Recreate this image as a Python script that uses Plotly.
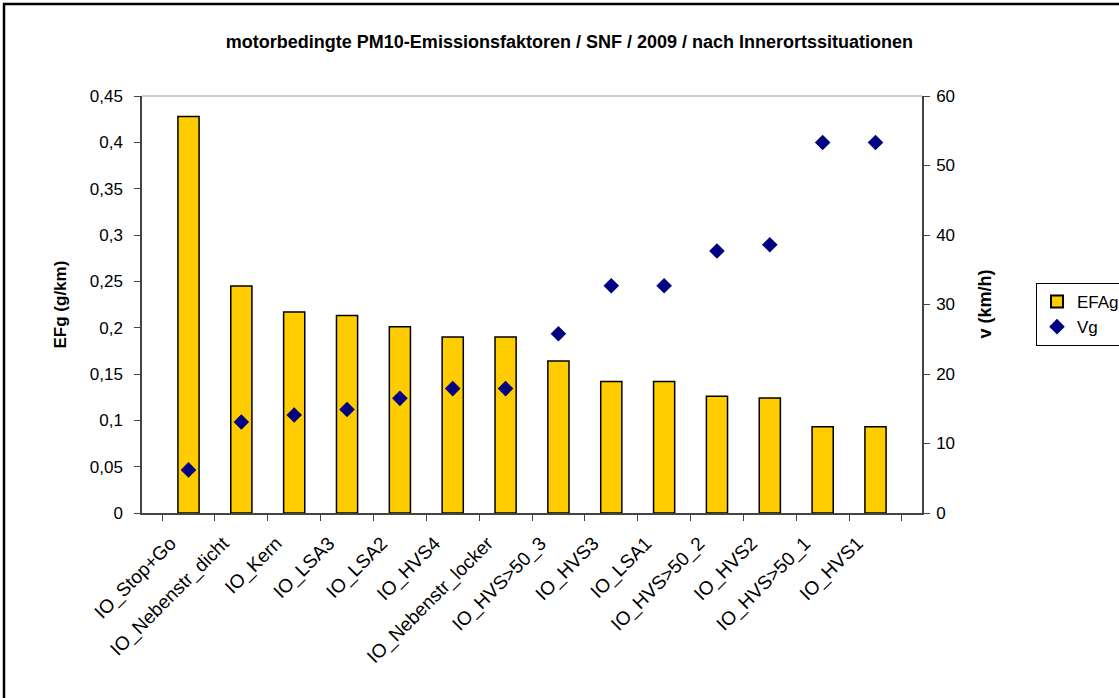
import plotly.graph_objects as go

# Innerorts traffic situations (SNF, 2009)
situations = [
    "IO_Stop+Go", "IO_Nebenstr_dicht", "IO_Kern", "IO_LSA3", "IO_LSA2",
    "IO_HVS4", "IO_Nebenstr_locker", "IO_HVS>50_3", "IO_HVS3", "IO_LSA1",
    "IO_HVS>50_2", "IO_HVS2", "IO_HVS>50_1", "IO_HVS1",
]
# engine PM10 emission factor (g/km)
efa_g = [0.428, 0.245, 0.217, 0.213, 0.201, 0.190, 0.190,
         0.164, 0.142, 0.142, 0.126, 0.124, 0.093, 0.093]
# mean speed (km/h)
v_g = [6.2, 13.1, 14.1, 14.9, 16.5, 17.9, 17.9,
       25.8, 32.7, 32.7, 37.7, 38.6, 53.3, 53.3]

FONT = "Liberation Sans, Arial, sans-serif"

fig = go.Figure()
fig.add_trace(go.Bar(
    x=situations, y=efa_g, name="EFAg",
    marker=dict(color="#FFCC00", line=dict(color="#000000", width=1.5)),
    yaxis="y",
))
fig.add_trace(go.Scatter(
    x=situations, y=v_g, name="Vg", mode="markers",
    marker=dict(symbol="diamond", size=12, color="#000080"),
    yaxis="y2",
))

axis_line = "#444444"
fig.update_layout(
    width=1119, height=698,
    margin=dict(l=142, r=197, t=96, b=185, autoexpand=False),
    paper_bgcolor="white", plot_bgcolor="white",
    separators=", ",
    font=dict(family=FONT, size=17, color="#000000"),
    bargap=0.6,
    showlegend=True,
    title=dict(
        text="<b>motorbedingte PM10-Emissionsfaktoren / SNF / 2009 / nach Innerortssituationen</b>",
        x=0.548, xref="paper", xanchor="center",
        y=1 - 42 / 698, yref="container", yanchor="middle",
        font=dict(family=FONT, size=18),
    ),
    xaxis=dict(
        type="category", showgrid=False, zeroline=False,
        showline=True, linecolor=axis_line, linewidth=1.5,
        ticks="outside", ticklen=6, tickcolor=axis_line, tickwidth=1.2,
        tickson="boundaries", tickangle=-45, automargin=False,
        ticklabelshift=-18, ticklabelstandoff=10,
        tickfont=dict(family=FONT, size=19),
    ),
    yaxis=dict(
        range=[0, 0.45], dtick=0.05, showgrid=False, zeroline=False,
        showline=True, linecolor=axis_line, linewidth=1.5,
        ticks="outside", ticklen=6, tickcolor=axis_line, tickwidth=1.2,
        automargin=False, ticklabelstandoff=8,
        tickfont=dict(family=FONT, size=17),
    ),
    yaxis2=dict(
        range=[0, 60], dtick=10, overlaying="y", side="right",
        showgrid=False, zeroline=False,
        showline=True, linecolor=axis_line, linewidth=1.5,
        ticks="outside", ticklen=6, tickcolor=axis_line, tickwidth=1.2,
        automargin=False, ticklabelstandoff=3,
        tickfont=dict(family=FONT, size=17),
    ),
    legend=dict(
        x=(1036 - 142) / 780, y=(513 - 283) / 417,
        xanchor="left", yanchor="top",
        bordercolor="#000000", borderwidth=1, bgcolor="white",
        font=dict(family=FONT, size=17),
        itemsizing="constant", itemwidth=30, tracegroupgap=6,
    ),
    annotations=[
        dict(text="<b>EFg (g/km)</b>", textangle=-90,
             xref="paper", yref="paper", x=(60 - 142) / 780, y=0.5,
             xanchor="center", yanchor="middle", showarrow=False,
             font=dict(family=FONT, size=17)),
        dict(text="<b>v (km/h)</b>", textangle=-90,
             xref="paper", yref="paper", x=(984 - 142) / 780, y=0.5,
             xanchor="center", yanchor="middle", showarrow=False,
             font=dict(family=FONT, size=18)),
    ],
    shapes=[
        # light top edge of the plot area
        dict(type="line", xref="paper", yref="paper", x0=0, x1=1, y0=1, y1=1,
             line=dict(color="#999999", width=1.2)),
        # chart frame
        dict(type="rect", xref="paper", yref="paper",
             x0=(4 - 142) / 780, x1=(1130 - 142) / 780,
             y0=-(710 - 513) / 417, y1=(513 - 4) / 417,
             line=dict(color="#000000", width=2.5)),
    ],
)

fig.write_html("out.html")
